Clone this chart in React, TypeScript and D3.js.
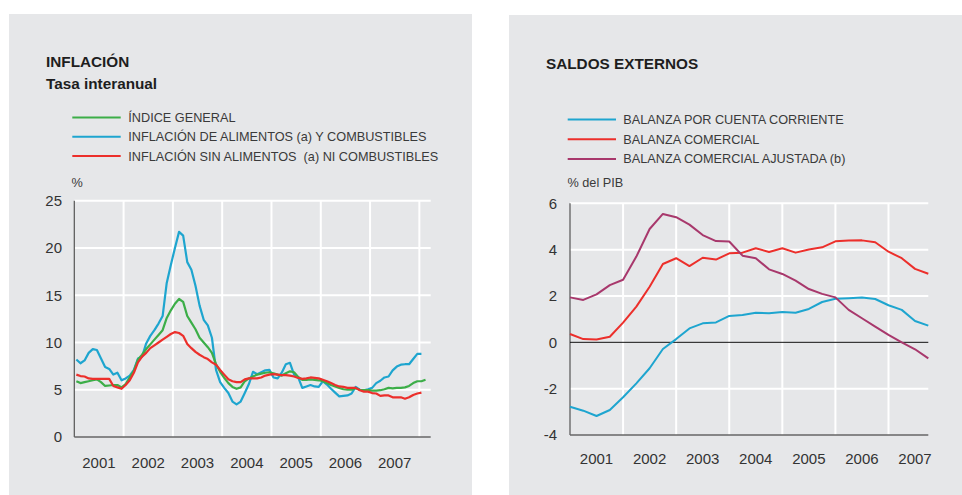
import React from "react";
import * as d3 from "d3";

// ---------- DATA ----------
// Left panel: monthly, Jan 2001 onwards
const indiceGeneral = [
  5.9, 5.7, 5.8, 5.9, 6.0, 6.1, 5.8, 5.4, 5.45, 5.5, 5.5, 5.25,
  5.6, 6.3, 7.0, 8.2, 8.7, 9.3, 9.8, 10.3, 10.8, 11.3, 12.6, 13.4,
  14.1, 14.6, 14.3, 12.8, 12.1, 11.4, 10.5, 10.0, 9.5, 8.9, 7.7, 6.9,
  6.25, 5.7, 5.3, 5.1, 5.25, 5.9, 6.2, 6.4, 6.6, 6.7, 6.8, 6.85,
  6.75, 6.6, 6.5, 6.75, 6.95, 6.85, 6.35, 6.05, 6.05, 6.1, 6.05, 6.0,
  5.9, 5.7, 5.5, 5.35, 5.2, 5.05, 5.0, 5.0, 5.15, 5.0, 4.95, 4.95,
  4.9, 4.9, 4.95, 5.05, 5.2, 5.15, 5.2, 5.2, 5.25, 5.4, 5.7, 5.9,
  5.9, 6.05,
];
const alimentosCombustibles = [
  8.2, 7.8, 8.1, 8.9, 9.3, 9.2, 8.3, 7.4, 7.2, 6.6, 6.8, 6.0,
  6.2, 6.5, 7.1, 8.3, 8.5, 9.9, 10.7, 11.3, 12.0, 12.8, 16.3, 18.2,
  20.0, 21.7, 21.3, 18.5, 17.7, 16.0, 13.9, 12.4, 11.8, 10.5, 7.1, 5.8,
  5.2, 4.65, 3.75, 3.45, 3.75, 4.65, 5.6, 6.9, 6.65, 6.85, 7.05, 7.1,
  6.3, 6.2, 6.8, 7.7, 7.85, 6.6, 6.3, 5.2, 5.35, 5.5, 5.35, 5.3,
  5.9, 5.55, 5.1, 4.7, 4.3, 4.35, 4.4, 4.6, 5.3, 5.0, 4.95, 5.05,
  5.2, 5.7, 5.95, 6.3, 6.4, 7.05, 7.45, 7.65, 7.7, 7.7, 8.25, 8.8,
  8.8,
];
const sinAlimentosCombustibles = [
  6.6, 6.45, 6.4, 6.2, 6.15, 6.15, 6.15, 6.15, 6.15, 5.4, 5.25, 5.1,
  5.5, 6.0, 6.8, 7.9, 8.5, 8.9, 9.4, 9.7, 10.0, 10.3, 10.6, 10.9,
  11.1, 11.0, 10.7, 9.85, 9.4, 9.0, 8.7, 8.45, 8.25, 7.9, 7.65, 7.1,
  6.6, 6.1, 5.9, 5.8, 5.8, 6.1, 6.2, 6.2, 6.2, 6.3, 6.5, 6.6,
  6.65, 6.6, 6.55, 6.55, 6.5, 6.4, 6.25, 6.15, 6.2, 6.3, 6.25, 6.2,
  6.05, 5.9, 5.7, 5.5, 5.35, 5.3, 5.2, 5.2, 5.2, 4.95, 4.8, 4.8,
  4.65, 4.6, 4.35, 4.4, 4.4, 4.2, 4.2, 4.2, 4.05, 4.2, 4.45, 4.6,
  4.7,
];

// Right panel: quarterly, 2001 Q1 onwards
const cuentaCorriente = [
  -2.78, -2.95, -3.18, -2.92, -2.37, -1.77, -1.12, -0.29,
  0.14, 0.6, 0.82, 0.86, 1.14, 1.18, 1.28, 1.25,
  1.31, 1.28, 1.44, 1.74, 1.88, 1.9, 1.93, 1.87,
  1.6, 1.4, 0.92, 0.72,
];
const comercial = [
  0.36, 0.14, 0.12, 0.24, 0.85, 1.54, 2.4, 3.38,
  3.63, 3.29, 3.65, 3.57, 3.84, 3.87, 4.06, 3.9,
  4.06, 3.87, 4.01, 4.1, 4.36, 4.39, 4.4, 4.32,
  3.91, 3.63, 3.17, 2.96,
];
const comercialAjustada = [
  1.94, 1.83, 2.07, 2.47, 2.7, 3.7, 4.89, 5.54,
  5.4, 5.08, 4.63, 4.37, 4.35, 3.74, 3.63, 3.15,
  2.95, 2.66, 2.3, 2.09, 1.94, 1.4, 1.04, 0.68,
  0.32, 0.0, -0.3, -0.69,
];

const years = [2001, 2002, 2003, 2004, 2005, 2006, 2007];
const leftTicks = [0, 5, 10, 15, 20, 25];
const rightTicks = [-4, -2, 0, 2, 4, 6];

const leftLegend = [
  { label: "ÍNDICE GENERAL", color: "#3cae48" },
  { label: "INFLACIÓN DE ALIMENTOS (a) Y COMBUSTIBLES", color: "#1ea5cf" },
  { label: "INFLACIÓN SIN ALIMENTOS  (a) NI COMBUSTIBLES", color: "#ec2f2b" },
];
const rightLegend = [
  { label: "BALANZA POR CUENTA CORRIENTE", color: "#1ea5cf" },
  { label: "BALANZA COMERCIAL", color: "#ec2f2b" },
  { label: "BALANZA COMERCIAL AJUSTADA (b)", color: "#a8386c" },
];

const FONT = "'Liberation Sans', Arial, Helvetica, sans-serif";
const BG = "#e6e7e9";
const LEG_FS = 12.7;

export default function App() {
  // ---- left scales
  const xL = d3.scaleLinear().domain([2001, 2008.23]).range([74.3, 430.7]);
  const yL = d3.scaleLinear().domain([0, 25]).range([437, 200.7]);
  const monthX = (i: number) => 2001 + (i + 0.5) / 12;
  const lineL = d3
    .line<number>()
    .x((_, i) => xL(monthX(i)))
    .y((d) => yL(d));

  // ---- right scales
  const xR = d3.scaleLinear().domain([2001, 2007.75]).range([570, 928.3]);
  const yR = d3.scaleLinear().domain([-4, 6]).range([435, 203.3]);
  const quarterX = (i: number) => 2001 + i * 0.25;
  const lineR = d3
    .line<number>()
    .x((_, i) => xR(quarterX(i)))
    .y((d) => yR(d));

  const leftSeries = [indiceGeneral, alimentosCombustibles, sinAlimentosCombustibles];
  const rightSeries = [cuentaCorriente, comercial, comercialAjustada];
  const leftOrder = [1, 0, 2];

  return (
    <svg
      width={962}
      height={495}
      style={{ position: "absolute", left: 0, top: 0, background: "#fff" }}
      fontFamily={FONT}
    >
      <rect x={9} y={14} width={463} height={481} fill={BG} />
      <rect x={509} y={15} width={453} height={480} fill={BG} />

      {/* ===== LEFT ===== */}
      <text x={46} y={67} fontSize={15.3} fontWeight="bold" fill="#1e1e1e">INFLACIÓN</text>
      <text x={46} y={88.5} fontSize={15.3} fontWeight="bold" fill="#1e1e1e">Tasa interanual</text>
      {leftLegend.map((l, i) => (
        <g key={l.label}>
          <line x1={72.3} x2={120.7} y1={117.5 + i * 19.3} y2={117.5 + i * 19.3} stroke={l.color} strokeWidth={2} />
          <text x={128.3} y={122 + i * 19.3} fontSize={LEG_FS} fill="#3a3a3a" style={{ whiteSpace: "pre" }}>{l.label}</text>
        </g>
      ))}
      <text x={71.5} y={186.5} fontSize={LEG_FS} fill="#3a3a3a">%</text>

      {leftTicks.filter((t) => t > 0).map((t) => (
        <line key={t} x1={xL(2001)} x2={xL.range()[1]} y1={yL(t)} y2={yL(t)} stroke="#fff" strokeWidth={2} />
      ))}
      {[2002, 2003, 2004, 2005, 2006, 2007, 2008].map((yv) => (
        <line key={yv} x1={xL(yv)} x2={xL(yv)} y1={yL(25)} y2={yL(0)} stroke="#fff" strokeWidth={2} />
      ))}
      <line x1={xL(2001)} x2={xL(2001)} y1={yL(25)} y2={yL(0)} stroke="#555" strokeWidth={1.2} />
      <line x1={xL(2001)} x2={xL.range()[1]} y1={yL(0)} y2={yL(0)} stroke="#666" strokeWidth={1.3} />
      {leftTicks.map((t) => (
        <text key={t} x={62} y={yL(t) + 5.3} fontSize={15} textAnchor="end" fill="#333">{t}</text>
      ))}
      {years.map((yv) => (
        <text key={yv} x={xL(yv + 0.5)} y={468} fontSize={15} textAnchor="middle" fill="#333">{yv}</text>
      ))}
      {leftOrder.map((k) => (
        <path
          key={k}
          d={lineL(leftSeries[k]) || ""}
          fill="none"
          stroke={leftLegend[k].color}
          strokeWidth={2.2}
          strokeLinejoin="round"
        />
      ))}

      {/* ===== RIGHT ===== */}
      <text x={546} y={69} fontSize={15.3} fontWeight="bold" fill="#1e1e1e">SALDOS EXTERNOS</text>
      {rightLegend.map((l, i) => (
        <g key={l.label}>
          <line x1={567.7} x2={616} y1={119.5 + i * 19.7} y2={119.5 + i * 19.7} stroke={l.color} strokeWidth={2} />
          <text x={623.3} y={124 + i * 19.7} fontSize={LEG_FS} fill="#3a3a3a">{l.label}</text>
        </g>
      ))}
      <text x={567.5} y={187} fontSize={LEG_FS} fill="#3a3a3a">% del PIB</text>

      {rightTicks.filter((t) => t !== -4 && t !== 0).map((t) => (
        <line key={t} x1={xR(2001)} x2={xR.range()[1]} y1={yR(t)} y2={yR(t)} stroke="#fff" strokeWidth={2} />
      ))}
      {[2002, 2003, 2004, 2005, 2006, 2007].map((yv) => (
        <line key={yv} x1={xR(yv)} x2={xR(yv)} y1={yR(6)} y2={yR(-4)} stroke="#fff" strokeWidth={2} />
      ))}
      <line x1={xR(2001)} x2={xR(2001)} y1={yR(6)} y2={yR(-4)} stroke="#555" strokeWidth={1.2} />
      <line x1={xR(2001)} x2={xR.range()[1]} y1={yR(-4)} y2={yR(-4)} stroke="#666" strokeWidth={1.3} />
      <line x1={xR(2001)} x2={xR.range()[1]} y1={yR(0)} y2={yR(0)} stroke="#111" strokeWidth={1} />
      {rightTicks.map((t) => (
        <text key={t} x={557} y={yR(t) + 5.3} fontSize={15} textAnchor="end" fill="#333">{t}</text>
      ))}
      {years.map((yv) => (
        <text key={yv} x={xR(yv + 0.5)} y={464} fontSize={15} textAnchor="middle" fill="#333">{yv}</text>
      ))}
      {rightSeries.map((s, k) => (
        <path
          key={k}
          d={lineR(s) || ""}
          fill="none"
          stroke={rightLegend[k].color}
          strokeWidth={2}
          strokeLinejoin="round"
        />
      ))}
    </svg>
  );
}
